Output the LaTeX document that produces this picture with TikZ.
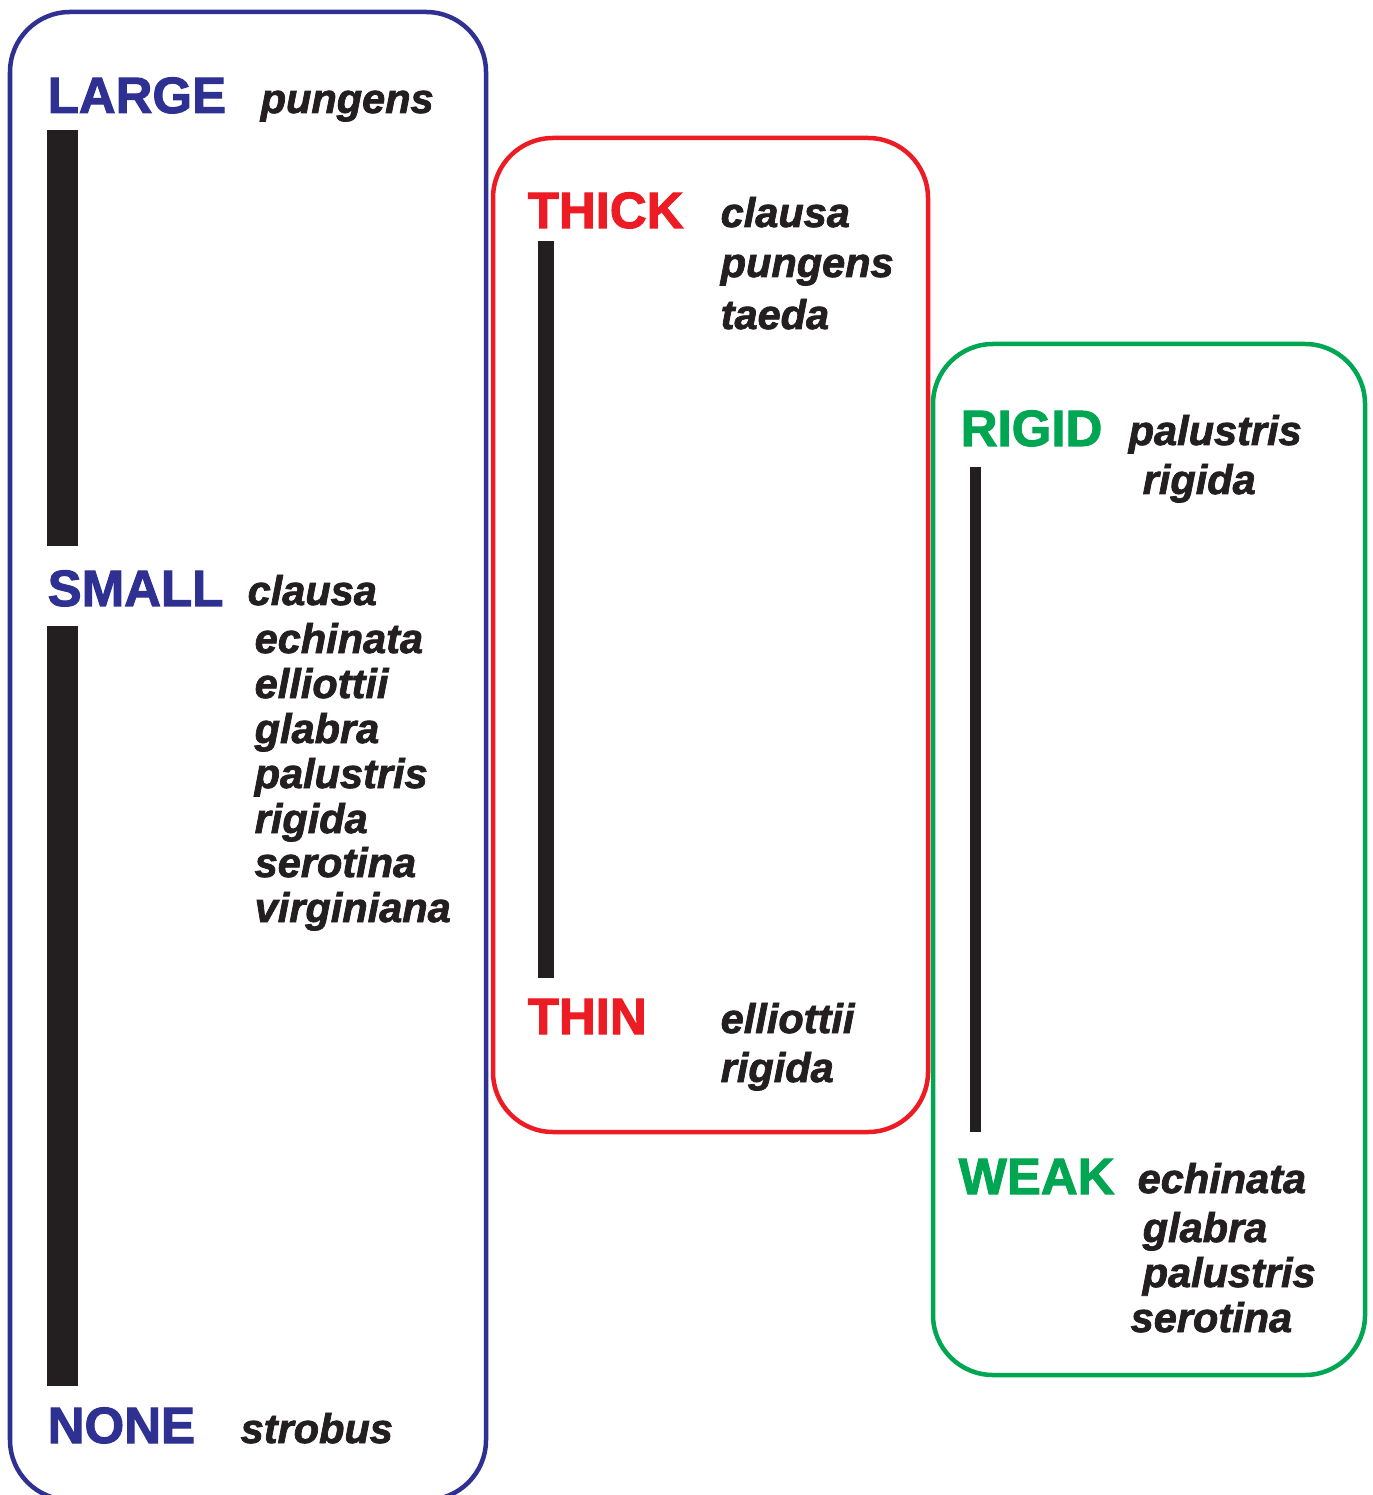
\documentclass[tikz,border=0pt]{standalone}
\usepackage{fontspec}
\setmainfont{Liberation Sans}
\newfontfamily\capsfont[FakeBold=2]{Liberation Sans Bold}
\newfontfamily\namefont[FakeBold=1.8]{Liberation Sans Bold Italic}
\usepackage{xcolor}
\definecolor{sizeblue}{HTML}{2E3192}
\definecolor{thickred}{HTML}{ED1C24}
\definecolor{rigidgreen}{HTML}{00A651}
\definecolor{ink}{HTML}{231F20}

\begin{document}
\begin{tikzpicture}[x=0.01cm,y=-0.01cm,
    frame/.style={line width=4.5pt*0.2845,rounded corners=0.6cm},
    bar/.style={fill=ink,draw=none},
    trait/.style={anchor=base west,inner sep=0pt,font=\capsfont\fontsize{14.5}{17}\selectfont},
    taxon/.style={anchor=base west,inner sep=0pt,text=ink,font=\namefont\fontsize{11.8}{14}\selectfont}]
    \useasboundingbox (0,0) rectangle (1372,1495);

    % cone size
    \draw[frame,draw=sizeblue] (10,12) rectangle (486,1500);
    \begin{scope}[every node/.style={trait,text=sizeblue}]
      \node (large) at (47,113) {LARGE};
      \node (small) at (47,606) {SMALL};
      \node (none)  at (47,1443) {NONE};
    \end{scope}
    \fill[bar] (47,130) rectangle (78,546);
    \fill[bar] (47,626) rectangle (78,1386);
    \begin{scope}[every node/.style={taxon}]
      \node (pun1) at (260,113) {pungens};
      \node (cla1) at (247,605) {clausa};
      \node (ech1) at (254,653) {echinata};
      \node (ell1) at (254,698) {elliottii};
      \node (gla1) at (254,743) {glabra};
      \node (pal1) at (254,788) {palustris};
      \node (rig1) at (254,833) {rigida};
      \node (ser1) at (254,877) {serotina};
      \node (vir1) at (254,922) {virginiana};
      \node (str1) at (240,1443) {strobus};
    \end{scope}

    % cone scale thickness
    \draw[frame,draw=thickred] (493,138) rectangle (928,1132);
    \begin{scope}[every node/.style={trait,text=thickred}]
      \node (thick) at (527,228) {THICK};
      \node (thin)  at (527,1034) {THIN};
    \end{scope}
    \fill[bar] (538,241) rectangle (554,978);
    \begin{scope}[every node/.style={taxon}]
      \node (cla2) at (720,227) {clausa};
      \node (pun2) at (720,277) {pungens};
      \node (tae2) at (720,329) {taeda};
      \node (ell2) at (720,1033) {elliottii};
      \node (rig2) at (720,1082) {rigida};
    \end{scope}

    % cone rigidity
    \draw[frame,draw=rigidgreen] (933,344) rectangle (1365,1375);
    \begin{scope}[every node/.style={trait,text=rigidgreen}]
      \node (rigid) at (960,446) {RIGID};
      \node (weak)  at (958,1194) {WEAK};
    \end{scope}
    \fill[bar] (970,467) rectangle (981,1132);
    \begin{scope}[every node/.style={taxon}]
      \node (pal3) at (1128,445) {palustris};
      \node (rig3) at (1142,494) {rigida};
      \node (ech3) at (1137,1193) {echinata};
      \node (gla3) at (1142,1242) {glabra};
      \node (pal4) at (1142,1287) {palustris};
      \node (ser3) at (1130,1332) {serotina};
    \end{scope}
\end{tikzpicture}
\end{document}
